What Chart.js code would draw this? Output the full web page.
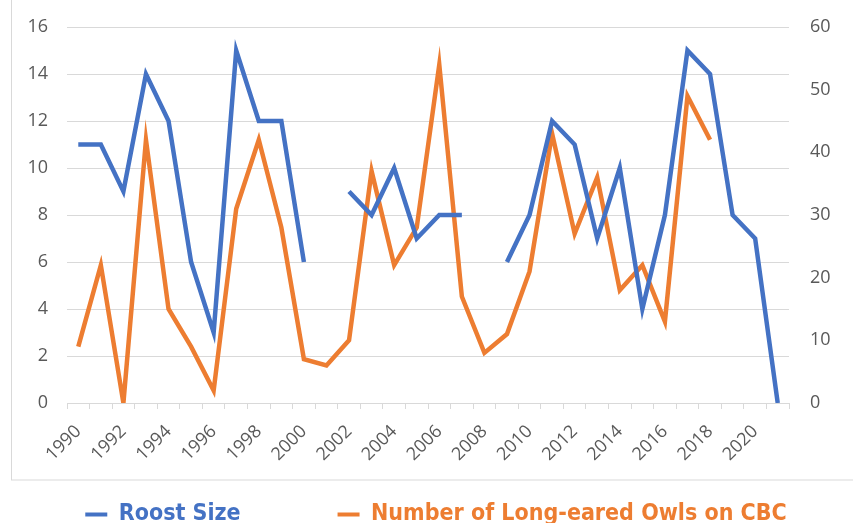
<!DOCTYPE html>
<html>
<head>
<meta charset="utf-8">
<script src="https://cdn.jsdelivr.net/npm/chart.js@4.4.1/dist/chart.umd.min.js"></script>
<style>
  html, body { margin: 0; padding: 0; background: #fff; }
  #wrap { width: 853px; height: 523px; }
</style>
</head>
<body>
<div id="wrap"><canvas id="owls" width="853" height="523"></canvas></div>
<script>
const years = [1990, 1991, 1992, 1993, 1994, 1995, 1996, 1997, 1998, 1999, 2000, 2001, 2002, 2003, 2004, 2005,
  2006, 2007, 2008, 2009, 2010, 2011, 2012, 2013, 2014, 2015, 2016, 2017, 2018, 2019, 2020, 2021]
const roostSize = [11, 11, 9, 14, 12, 6, 3, 15, 12, 12, 6, null, 9, 8, 10, 7,
  8, 8, null, 6, 8, 12, 11, 7, 10, 4, 8, 15, 14, 8, 7, 0]
const cbcOwls = [9, 22, 0, 42, 15, 9, 2, 31, 42, 28, 7, 6, 10, 37, 22, 28,
  54, 17, 8, 11, 21, 43, 27, 36, 18, 22, 13, 49, 42, null, null, null]
const seriesNames = ['Roost Size', 'Number of Long-eared Owls on CBC']
const seriesColors = ['#4472C4', '#ED7D31']

const gridColor = '#d9d9d9'
const tickColor = '#595959'
const tickFont = {family: "'Open Sans', 'Noto Sans', sans-serif", size: 18}

// light frame around the plot, legend sits outside it
const framePlugin = {
  id: 'frame',
  beforeDraw(chart) {
    const ctx = chart.ctx
    ctx.save()
    ctx.strokeStyle = gridColor
    ctx.lineWidth = 1
    ctx.strokeRect(11.5, -2, 860, 482)
    ctx.restore()
  }
}

// fixed axis box sizes so the plot lands where the original sits
const fixY = (w) => (s) => {
  s.width = w
  s.paddingTop = 0
  s.paddingBottom = 0
}

const ctx = document.getElementById('owls').getContext('2d')
const chart = new Chart(ctx, {
  type: 'line',
  data: {
    labels: years.map(String),
    datasets: [{
      label: seriesNames[0],
      data: roostSize,
      borderColor: seriesColors[0],
      backgroundColor: seriesColors[0],
      borderWidth: 4.5,
      pointRadius: 0,
      tension: 0,
      spanGaps: false,
      yAxisID: 'y'
    }, {
      label: seriesNames[1],
      data: cbcOwls,
      borderColor: seriesColors[1],
      backgroundColor: seriesColors[1],
      borderWidth: 4.5,
      pointRadius: 0,
      tension: 0,
      spanGaps: false,
      yAxisID: 'y2'
    }]
  },
  options: {
    responsive: false,
    animation: false,
    layout: {padding: {top: 27, left: 12, right: -7, bottom: -13}},
    plugins: {
      tooltip: {enabled: false},
      legend: {
        position: 'bottom',
        labels: {
          boxWidth: 22,
          boxHeight: 4,
          padding: 10,
          font: {family: "'Liberation Sans Narrow', 'DejaVu Sans Condensed', sans-serif", size: 23, weight: 'bold'},
          generateLabels: (c) => c.data.datasets.map((ds, i) => ({
            text: i === 0 ? ds.label + '\u2003\u2003\u2003\u2003\u2009' : ds.label,
            fillStyle: seriesColors[i],
            strokeStyle: seriesColors[i],
            lineWidth: 0,
            fontColor: seriesColors[i],
            datasetIndex: i
          }))
        }
      }
    },
    scales: {
      x: {
        offset: true,
        grid: {offset: true, drawOnChartArea: false, tickLength: 6, color: gridColor},
        border: {color: gridColor},
        ticks: {
          autoSkip: false,
          minRotation: 45,
          maxRotation: 45,
          color: tickColor,
          font: tickFont,
          padding: 12,
          callback: (v, i) => (i % 2 === 0 ? years[i] : '')
        },
        afterFit: (s) => { s.height = 90 }
      },
      y: {
        position: 'left',
        min: 0,
        max: 16,
        ticks: {stepSize: 2, color: tickColor, font: tickFont, padding: 19},
        grid: {color: gridColor, drawTicks: false},
        border: {display: false},
        afterFit: fixY(55)
      },
      y2: {
        position: 'right',
        min: 0,
        max: 60,
        ticks: {stepSize: 10, color: tickColor, font: tickFont, padding: 21},
        grid: {drawOnChartArea: false, drawTicks: false},
        border: {display: false},
        afterFit: fixY(71)
      }
    }
  },
  plugins: [framePlugin]
})
</script>
</body>
</html>
